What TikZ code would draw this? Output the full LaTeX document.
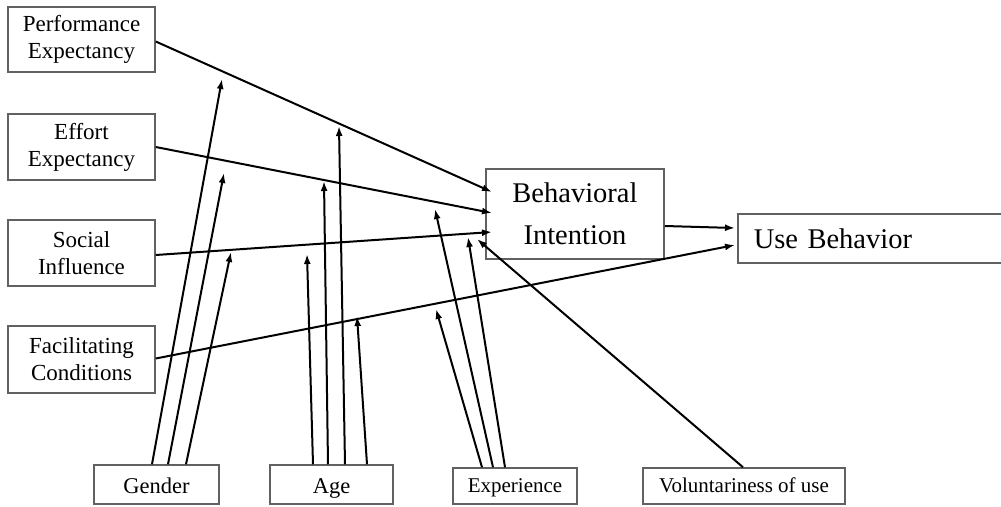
\documentclass[tikz,border=0pt]{standalone}
\usepackage{fontspec}
\setmainfont{Liberation Serif}
\usetikzlibrary{arrows.meta,calc}
\begin{document}
\begin{tikzpicture}[x=1pt,y=-1pt,
  box/.style={draw=black!62,line width=1.5pt,inner sep=0pt,align=center,fill=white},
  lbox/.style={box,minimum width=147pt,font=\fontsize{23}{27}\selectfont},
  sbox/.style={box,text height=17pt,text depth=4pt,font=\fontsize{21}{25}\selectfont},
  gbox/.style={box,text height=20pt,text depth=3pt,font=\fontsize{22.5}{26}\selectfont,minimum height=39pt},
  bbox/.style={box,font=\fontsize{28.5}{42}\selectfont},
  arr/.style={line width=2pt,-{Latex[length=10pt,width=7pt]}}]
\useasboundingbox (0,0) rectangle (1001,506);
\clip (0,0) rectangle (1001,506);
% boxes
\node[lbox,minimum height=65pt] (pe) at (81.5,39.5) {Performance\\Expectancy};
\node[lbox,minimum height=66pt] (ee) at (81.5,147) {Effort\\Expectancy};
\node[lbox,minimum height=66pt] (si) at (81.5,253) {Social\\Influence};
\node[lbox,minimum height=67pt] (fc) at (81.5,359.5) {Facilitating\\Conditions};
\node[gbox,minimum width=125pt] (gen) at (156.5,484.5) {Gender};
\node[gbox,minimum width=123pt] (age) at (331.5,484.5) {Age};
\node[sbox,minimum width=124pt,minimum height=36pt] (exp) at (515,486) {Experience};
\node[sbox,minimum width=202pt,minimum height=36pt] (vol) at (744,486) {Voluntariness of use};
\node[bbox,minimum width=178pt,minimum height=90pt] (bi) at (575,214) {Behavioral\\Intention};
\node[bbox,anchor=west,align=left,text width=236pt,inner xsep=16pt,minimum height=49pt] (ub) at (737,238.5) {Use Behavior};
% free ends of connectors
\coordinate (bi1) at (492,192);
\coordinate (bi2) at (492,213);
\coordinate (bi3) at (492,232);
\coordinate (ub1) at (735,228);
\coordinate (ub2) at (735,245);
\coordinate (g1) at (222,79);
\coordinate (g2) at (224,173);
\coordinate (g3) at (231,252);
\coordinate (a1) at (307,254);
\coordinate (a2) at (324,181);
\coordinate (a3) at (339,126);
\coordinate (a4) at (357,316);
\coordinate (x1) at (436,309);
\coordinate (x2) at (435,209);
\coordinate (x3) at (468,237);
\coordinate (v1) at (477,239);
% connectors
\draw[arr] ($(pe.east)+(0,2)$) -- (bi1);
\draw[arr] (ee.east) -- (bi2);
\draw[arr] ($(si.east)+(0,2)$) -- (bi3);
\draw[arr] ($(bi.east)+(0,12)$) -- (ub1);
\draw[arr] ($(fc.east)+(0,-1)$) -- (ub2);
\draw[arr] ($(gen.north)+(-4.5,0)$) -- (g1);
\draw[arr] ($(gen.north)+(11.5,0)$) -- (g2);
\draw[arr] ($(gen.north)+(29.5,0)$) -- (g3);
\draw[arr] ($(age.north)+(-18.5,0)$) -- (a1);
\draw[arr] ($(age.north)+(-3.5,0)$) -- (a2);
\draw[arr] ($(age.north)+(13.5,0)$) -- (a3);
\draw[arr] ($(age.north)+(35.5,0)$) -- (a4);
\draw[arr] ($(exp.north)+(-33,0)$) -- (x1);
\draw[arr] ($(exp.north)+(-22,0)$) -- (x2);
\draw[arr] ($(exp.north)+(-10,0)$) -- (x3);
\draw[arr] ($(vol.north)+(-1,0)$) -- (v1);
\end{tikzpicture}
\end{document}
